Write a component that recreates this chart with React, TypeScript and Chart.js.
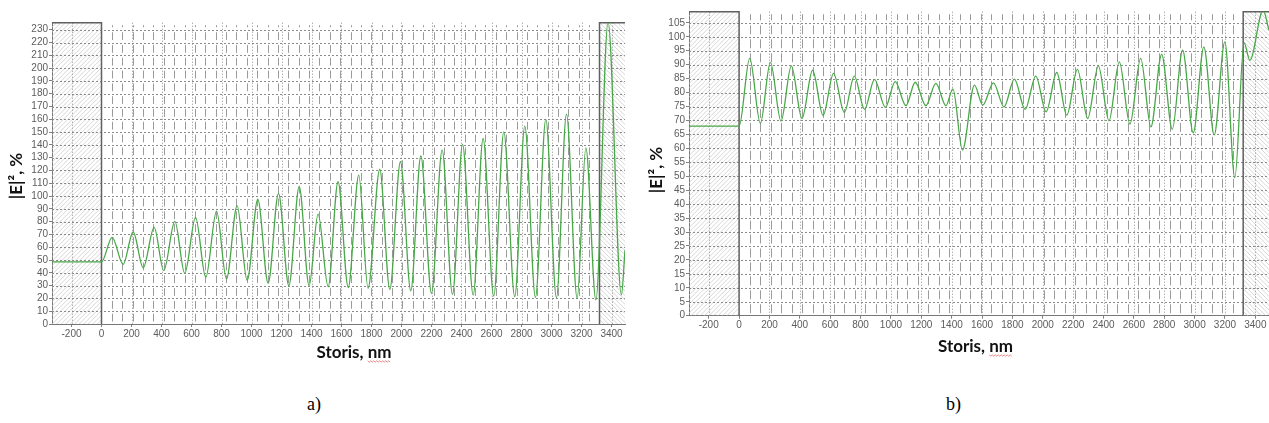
import React, { useEffect, useRef } from 'react';
import { Chart, registerables } from 'chart.js';

Chart.register(...registerables);

// ---------------- data ----------------
const X_TICKS = [-200, 0, 200, 400, 600, 800, 1000, 1200, 1400, 1600, 1800, 2000, 2200, 2400, 2600, 2800, 3000, 3200, 3400];
const X_MIN = -330;
const X_MAX = 3490;
const SUBSTRATE_END = 0;
const STACK_END = 3320;
const STACK_LAYERS = 48;

const X_TITLE = 'Storis, nm';
const Y_TITLE = '|E|², %';
const PANEL_LABELS = ['a)', 'b)'];

const A_Y_TICKS = [0, 10, 20, 30, 40, 50, 60, 70, 80, 90, 100, 110, 120, 130, 140, 150, 160, 170, 180, 190, 200, 210, 220, 230];
const A_Y_MAX = 235.5;
const A_X = [-330, 0, 71, 144, 211, 278, 351, 415, 489, 555, 627, 695, 767, 833, 904, 971, 1042, 1111, 1180, 1249, 1318, 1384, 1444, 1511, 1577, 1645, 1715, 1777, 1855, 1922, 1993, 2062, 2129, 2200, 2271, 2340, 2407, 2478, 2544, 2615, 2682, 2755, 2822, 2893, 2962, 3033, 3100, 3171, 3229, 3296, 3377, 3466, 3490];
const A_Y = [48.5, 48.5, 67.7, 46.6, 71.9, 44, 75.5, 41.7, 80.2, 39.6, 83.3, 36.5, 88.3, 35.2, 92.4, 34.1, 97.4, 31.8, 102.1, 29.9, 107.3, 29.9, 85.9, 29.2, 111.2, 28.5, 116.4, 27.9, 120.8, 27.1, 126.8, 26, 131.3, 24, 135.9, 23.2, 140.4, 22.7, 145, 21.9, 150.2, 21.4, 154.7, 20.8, 159.9, 20.6, 164, 20, 137.7, 18.8, 236, 22.7, 57.8];

const B_Y_TICKS = [0, 5, 10, 15, 20, 25, 30, 35, 40, 45, 50, 55, 60, 65, 70, 75, 80, 85, 90, 95, 100, 105];
const B_Y_MAX = 109;
const B_X = [-330, 0, 70, 140, 206, 276, 344, 414, 484, 553, 622, 693, 759, 826, 892, 963, 1028, 1099, 1160, 1230, 1296, 1362, 1408, 1471, 1550, 1605, 1675, 1745, 1813, 1884, 1954, 2022, 2092, 2158, 2228, 2296, 2366, 2436, 2504, 2574, 2645, 2712, 2783, 2853, 2921, 2991, 3061, 3129, 3199, 3265, 3326, 3364, 3451, 3490];
const B_Y = [68, 68, 92.3, 69, 90.8, 69.8, 89.6, 70.7, 88, 71.8, 86.9, 72.9, 85.9, 74, 84.7, 74.7, 83.9, 75.3, 83.7, 75.3, 83.3, 75.3, 81.3, 59.4, 82.7, 75.5, 83.5, 74.9, 84.8, 74, 85.9, 73.1, 87.2, 71.9, 88.3, 70.7, 89.6, 69.9, 91, 68.7, 92.3, 67.7, 93.7, 66.8, 95.2, 65.6, 96.4, 64.8, 98.2, 49.5, 97.8, 91.6, 109.5, 102.4];

// ---------------- drawing helpers ----------------
function hatch(ctx: CanvasRenderingContext2D, x: number, y: number, w: number, h: number, dir: number, step: number) {
  if (w <= 0 || h <= 0) return;
  ctx.save();
  ctx.beginPath();
  ctx.rect(x, y, w, h);
  ctx.clip();
  ctx.strokeStyle = '#cdcdcd';
  ctx.lineWidth = 0.8;
  ctx.setLineDash([]);
  ctx.beginPath();
  for (let t = -h; t < w + h; t += step) {
    if (dir > 0) {
      ctx.moveTo(x + t, y + h);
      ctx.lineTo(x + t + h, y);
    } else {
      ctx.moveTo(x + t, y);
      ctx.lineTo(x + t + h, y + h);
    }
  }
  ctx.stroke();
  ctx.restore();
}

const decorPlugin = {
  id: 'decor',
  beforeDatasetsDraw(chart: any) {
    const { ctx, chartArea: ca } = chart;
    const xs = chart.scales.x;
    const ys = chart.scales.y;
    const xa = xs.getPixelForValue(SUBSTRATE_END);
    const xb = xs.getPixelForValue(STACK_END);
    ctx.save();
    hatch(ctx, ca.left, ca.top, xa - ca.left, ca.bottom - ca.top, 1, 4.5);
    hatch(ctx, xb, ca.top, ca.right - xb, ca.bottom - ca.top, -1, 4.5);

    // horizontal dotted grid
    ctx.lineWidth = 1;
    ctx.strokeStyle = '#8a8a8a';
    ctx.setLineDash([2, 2]);
    ctx.beginPath();
    for (const t of ys.ticks) {
      const py = Math.round(ys.getPixelForValue(t.value)) + 0.5;
      if (py >= ca.bottom - 1) continue;
      ctx.moveTo(ca.left, py);
      ctx.lineTo(ca.right, py);
    }
    ctx.stroke();

    // vertical dotted grid at major ticks
    ctx.setLineDash([1, 2]);
    ctx.strokeStyle = '#8f8f8f';
    ctx.beginPath();
    for (const t of xs.ticks) {
      if (t.value === SUBSTRATE_END) continue;
      const px = Math.round(xs.getPixelForValue(t.value)) + 0.5;
      ctx.moveTo(px, ca.top);
      ctx.lineTo(px, ca.bottom);
    }
    ctx.stroke();

    // layer boundaries of the multilayer stack
    ctx.setLineDash([]);
    ctx.strokeStyle = '#9b9b9b';
    const rows = [ca.top, ...ys.ticks.map((t: any) => ys.getPixelForValue(t.value))].sort((a, b) => a - b);
    const layer = (STACK_END - SUBSTRATE_END) / STACK_LAYERS;
    ctx.beginPath();
    for (let k = 1; k < STACK_LAYERS; k++) {
      const px = Math.round(xs.getPixelForValue(SUBSTRATE_END + k * layer)) + 0.5;
      for (let i = 0; i + 1 < rows.length; i++) {
        const a = rows[i] + 2.5;
        const b = rows[i + 1] - 2.5;
        if (b > a) {
          ctx.moveTo(px, a);
          ctx.lineTo(px, b);
        }
      }
    }
    ctx.stroke();

    // box borders
    ctx.strokeStyle = '#606060';
    ctx.lineWidth = 1.5;
    ctx.beginPath();
    ctx.moveTo(ca.left, ca.top);
    ctx.lineTo(xa, ca.top);
    ctx.lineTo(xa, ca.bottom);
    ctx.moveTo(ca.right, ca.top);
    ctx.lineTo(xb, ca.top);
    ctx.lineTo(xb, ca.bottom);
    ctx.stroke();
    ctx.restore();
  },
};

const titlePlugin = {
  id: 'axisTitles',
  afterDraw(chart: any, _args: any, o: any) {
    const ctx = chart.ctx as CanvasRenderingContext2D;
    ctx.save();
    ctx.fillStyle = '#111';
    ctx.textAlign = 'center';
    ctx.textBaseline = 'middle';
    ctx.font = 'bold 17px Lato';
    ctx.fillText(X_TITLE, o.x[0], o.x[1]);
    const full = ctx.measureText(X_TITLE).width;
    const word = X_TITLE.split(' ').pop() as string;
    const ww = ctx.measureText(word).width;
    const sx = o.x[0] + full / 2 - ww;
    const ex = o.x[0] + full / 2;
    const uy = o.x[1] + 8.5;
    ctx.strokeStyle = '#e06a6a';
    ctx.lineWidth = 0.8;
    ctx.beginPath();
    let i = 0;
    for (let px = sx; px <= ex; px += 1.5, i++) {
      const yy = uy + (i % 2 ? 0.7 : -0.7);
      if (i === 0) ctx.moveTo(px, yy);
      else ctx.lineTo(px, yy);
    }
    ctx.stroke();
    ctx.translate(o.y[0], o.y[1]);
    ctx.rotate(-Math.PI / 2);
    ctx.font = 'bold 17px Lato';
    ctx.fillText(Y_TITLE, 0, 0);
    ctx.restore();
  },
};

type Panel = {
  xs: number[];
  ys: number[];
  yTicks: number[];
  yMax: number;
  left: number;
  width: number;
  height: number;
  padTop: number;
  padRight: number;
  yAxisWidth: number;
  plotBottom: number;
  xTitle: [number, number];
  yTitle: [number, number];
};

const PANELS: Panel[] = [
  {
    xs: A_X, ys: A_Y, yTicks: A_Y_TICKS, yMax: A_Y_MAX,
    left: 0, width: 640, height: 372, padTop: 22.7, padRight: 15, yAxisWidth: 52, plotBottom: 324,
    xTitle: [354, 353], yTitle: [17, 176],
  },
  {
    xs: B_X, ys: B_Y, yTicks: B_Y_TICKS, yMax: B_Y_MAX,
    left: 640, width: 629, height: 372, padTop: 11.7, padRight: 0, yAxisWidth: 49, plotBottom: 315.7,
    xTitle: [335.5, 347], yTitle: [17, 170],
  },
];

const TICK_FONT = { family: 'Liberation Sans, Arial, sans-serif', size: 10 };

function makeConfig(p: Panel): any {
  const data = p.xs.map((x, i) => ({ x, y: p.ys[i] }));
  return {
    type: 'line',
    data: {
      datasets: [
        {
          data,
          borderColor: 'rgb(72, 168, 72)',
          borderWidth: 1.3,
          pointRadius: 0,
          cubicInterpolationMode: 'monotone',
          fill: false,
        },
      ],
    },
    options: {
      animation: false,
      responsive: false,
      maintainAspectRatio: false,
      events: [],
      layout: { padding: { top: p.padTop, right: p.padRight, left: 0, bottom: 0 } },
      plugins: {
        legend: { display: false },
        tooltip: { enabled: false },
        axisTitles: { x: p.xTitle, y: p.yTitle },
      },
      scales: {
        x: {
          type: 'linear',
          min: X_MIN,
          max: X_MAX,
          afterBuildTicks: (s: any) => {
            s.ticks = X_TICKS.map((v) => ({ value: v }));
          },
          afterFit: (s: any) => {
            s.height = p.height - p.plotBottom;
          },
          ticks: {
            autoSkip: false,
            maxRotation: 0,
            padding: 1,
            color: '#5c5c5c',
            font: TICK_FONT,
            callback: (v: any) => String(v),
          },
          grid: { display: true, drawOnChartArea: false, drawTicks: true, tickLength: 3, color: '#808080' },
          border: { display: true, color: '#777', width: 1 },
        },
        y: {
          type: 'linear',
          min: 0,
          max: p.yMax,
          afterBuildTicks: (s: any) => {
            s.ticks = p.yTicks.map((v) => ({ value: v }));
          },
          afterFit: (s: any) => {
            s.width = p.yAxisWidth;
          },
          ticks: {
            autoSkip: false,
            padding: 1,
            color: '#5c5c5c',
            font: TICK_FONT,
            callback: (v: any) => String(v),
          },
          grid: { display: true, drawOnChartArea: false, drawTicks: true, tickLength: 3, color: '#808080' },
          border: { display: true, color: '#777', width: 1 },
        },
      },
    },
    plugins: [decorPlugin, titlePlugin],
  };
}

export default function App() {
  const refA = useRef<HTMLCanvasElement | null>(null);
  const refB = useRef<HTMLCanvasElement | null>(null);

  useEffect(() => {
    const charts: Chart[] = [];
    [refA.current, refB.current].forEach((c, i) => {
      if (c) charts.push(new Chart(c, makeConfig(PANELS[i])));
    });
    return () => charts.forEach((c) => c.destroy());
  }, []);

  return (
    <div style={{ position: 'absolute', left: 0, top: 0, width: 1269, height: 423, background: '#fff', overflow: 'hidden' }}>
      {PANELS.map((p, i) => (
        <canvas
          key={i}
          ref={i === 0 ? refA : refB}
          width={p.width}
          height={p.height}
          style={{ position: 'absolute', left: p.left, top: 0, width: p.width, height: p.height }}
        />
      ))}
      {PANEL_LABELS.map((t, i) => (
        <div
          key={t}
          style={{
            position: 'absolute',
            left: i === 0 ? 307 : 946,
            top: 395,
            fontFamily: '"Liberation Serif", "Times New Roman", serif',
            fontSize: 18,
            lineHeight: '18px',
            color: '#000',
          }}
        >
          {t}
        </div>
      ))}
    </div>
  );
}
